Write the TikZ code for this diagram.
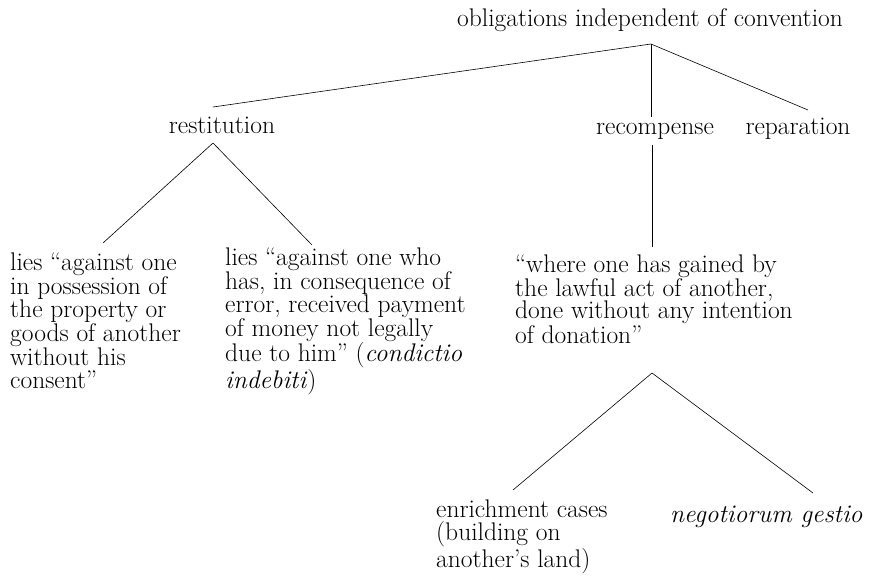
\documentclass[tikz,border=0pt]{standalone}
\usepackage{fontspec}
\begin{document}
\begin{tikzpicture}[x=1pt, y=-1pt,
		lbl/.style={inner sep=0pt, font=\fontsize{25.5}{22.8}\selectfont, align=left},
		branch/.style={line width=0.6pt}]
		\useasboundingbox (0,0) rectangle (873,582);

		\node[lbl, anchor=base] (title) at (650,26) {obligations independent of convention};
		\node[lbl, anchor=base] (restitution) at (222,133) {restitution};
		\node[lbl, anchor=base] (recompense) at (655,134) {recompense};
		\node[lbl, anchor=base] (reparation) at (798,134) {reparation};

		% multi-line texts are placed by the baseline of their last line
		\node[lbl, anchor=base west] (possession) at (10,388) {lies “against one\\in possession of\\the property or\\goods of another\\without his\\consent”};
		\node[lbl, anchor=base west] (payment) at (225,388) {lies “against one who\\has, in consequence of\\error, received payment\\of money not legally\\due to him” (\textit{condictio}\\\textit{indebiti})};
		\node[lbl, anchor=base west] (gained) at (515,343) {“where one has gained by\\the lawful act of another,\\done without any intention\\of donation”};
		\node[lbl, anchor=base west] (enrichment) at (436,567) {enrichment cases\\(building on\\another’s land)};
		\node[lbl, anchor=base west] (gestio) at (670,522) {\textit{negotiorum gestio}};

		\coordinate (titletip) at (651,44);
		\coordinate (restitutionin) at (213,107);
		\coordinate (recompensein) at (651,117);
		\coordinate (reparationin) at (808,110);
		\coordinate (restitutiontip) at (213,143);
		\coordinate (possessionin) at (103,243);
		\coordinate (paymentin) at (312,245);
		\coordinate (recompensetip) at (652,145);
		\coordinate (gainedin) at (652,247);
		\coordinate (gainedtip) at (652,373);
		\coordinate (enrichmentin) at (513,490);
		\coordinate (gestioin) at (813,493);

		\draw[branch] (titletip) -- (restitutionin);
		\draw[branch, line width=0.4pt] (titletip) -- (recompensein);
		\draw[branch] (titletip) -- (reparationin);
		\draw[branch] (restitutiontip) -- (possessionin);
		\draw[branch] (restitutiontip) -- (paymentin);
		\draw[branch] (recompensetip) -- (gainedin);
		\draw[branch] (gainedtip) -- (enrichmentin);
		\draw[branch] (gainedtip) -- (gestioin);
	\end{tikzpicture}
\end{document}
